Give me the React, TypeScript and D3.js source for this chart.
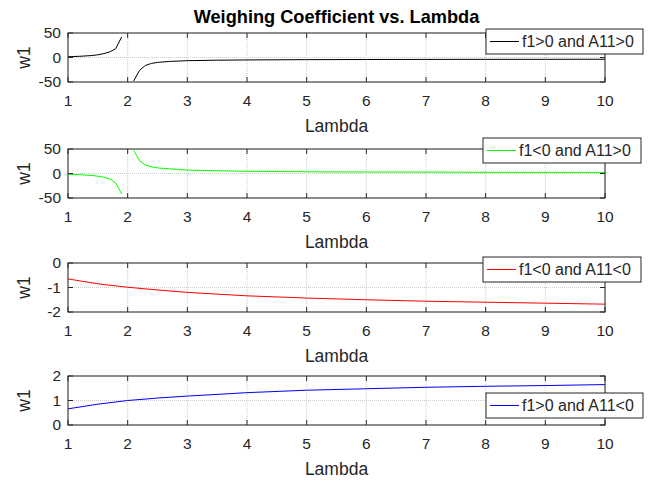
import * as d3 from "d3";

// lambda samples, split around the singularity at lambda = 2
const lambdaLow = [1, 1.2, 1.4, 1.5, 1.6, 1.7, 1.8, 1.9];
const lambdaHigh = [2.1, 2.2, 2.3, 2.4, 2.5, 2.7, 3, 3.5, 4, 5, 6, 7, 8, 9, 10];
const lambdaAll = [1, 1.5, 2, 2.5, 3, 4, 5, 6, 7, 8, 9, 10];

// f1>0 and A11>0
const w1PosPosLow = [1.5, 2.5, 4, 5.5, 8, 11.5, 18, 42];
const w1PosPosHigh = [-48, -26, -16, -12, -10, -8, -6.5, -5.5, -5, -4.4, -4.1, -3.9, -3.8, -3.7, -3.6];
// f1<0 and A11>0
const w1NegPosLow = [-1.5, -2.5, -4, -5.5, -7.5, -11, -19, -42];
const w1NegPosHigh = [47, 26, 17, 13.5, 11.5, 9.5, 7, 5.5, 4.5, 3.5, 3, 2.8, 2.5, 2.3, 2.2];
// f1<0 and A11<0
const w1NegNeg = [-0.65, -0.85, -0.99, -1.1, -1.2, -1.34, -1.43, -1.5, -1.56, -1.6, -1.64, -1.68];
// f1>0 and A11<0
const w1PosNeg = [0.66, 0.85, 1.0, 1.1, 1.18, 1.32, 1.42, 1.48, 1.54, 1.58, 1.61, 1.65];

const xTicks = [1, 2, 3, 4, 5, 6, 7, 8, 9, 10];
const legendLabels = ["f1>0 and A11>0", "f1<0 and A11>0", "f1<0 and A11<0", "f1>0 and A11<0"];
const yDomains: [number, number][] = [[-50, 50], [-50, 50], [-2, 0], [0, 2]];
const yTicks = [[-50, 0, 50], [-50, 0, 50], [-2, -1, 0], [0, 1, 2]];

const zip = (xs: number[], ys: number[]) => xs.map((x, i) => [x, ys[i]] as [number, number]);

const segments: [number, number][][][] = [
  [zip(lambdaLow, w1PosPosLow), zip(lambdaHigh, w1PosPosHigh)],
  [zip(lambdaLow, w1NegPosLow), zip(lambdaHigh, w1NegPosHigh)],
  [zip(lambdaAll, w1NegNeg)],
  [zip(lambdaAll, w1PosNeg)],
];

const colors = ["#000000", "#00ff00", "#ff0000", "#0000ff"];
const panelTops = [33, 149, 263, 376];
const legendTops = [29, 138, 257, 393];
const legendLefts = [486, 483, 483, 486];
const legendWidths = [157, 158, 158, 157];

const W = 650;
const H = 482;
const left = 68;
const right = 605;
const panelH = 49;
const ink = "#262626";
const font = "'Liberation Sans', Arial, Helvetica, sans-serif";

const xScale = d3.scaleLinear().domain([1, 10]).range([left, right]);

function Panel({ idx }: { idx: number }) {
  const top = panelTops[idx];
  const bottom = top + panelH;
  const y = d3.scaleLinear().domain(yDomains[idx]).range([bottom, top]);
  const line = d3
    .line<[number, number]>()
    .x((d) => xScale(d[0]))
    .y((d) => y(d[1]));
  const lx = legendLefts[idx];
  const ly = legendTops[idx];
  const lw = legendWidths[idx];
  const lh = 25;

  return (
    <g>
      <rect x={left} y={top} width={right - left} height={panelH} fill="#fff" />
      {/* grid */}
      {xTicks.map((t) => (
        <line
          key={"gx" + t}
          x1={xScale(t)}
          x2={xScale(t)}
          y1={top}
          y2={bottom}
          stroke="#bdbdbd"
          strokeWidth={0.8}
          strokeDasharray="1,1"
        />
      ))}
      {yTicks[idx].map((t) => (
        <line
          key={"gy" + t}
          x1={left}
          x2={right}
          y1={y(t)}
          y2={y(t)}
          stroke="#bdbdbd"
          strokeWidth={0.8}
          strokeDasharray="1,1"
        />
      ))}
      {/* data */}
      {segments[idx].map((seg, i) => (
        <path key={i} d={line(seg) ?? ""} fill="none" stroke={colors[idx]} strokeWidth={1} />
      ))}
      {/* box + ticks */}
      <rect x={left} y={top} width={right - left} height={panelH} fill="none" stroke={ink} strokeWidth={1} />
      {xTicks.map((t) => (
        <g key={"tx" + t}>
          <line x1={xScale(t)} x2={xScale(t)} y1={bottom} y2={bottom - 5} stroke={ink} />
          <line x1={xScale(t)} x2={xScale(t)} y1={top} y2={top + 5} stroke={ink} />
          <text
            x={xScale(t)}
            y={bottom + 24}
            textAnchor="middle"
            fontSize={15.5}
            fontFamily={font}
            fill={ink}
          >
            {t}
          </text>
        </g>
      ))}
      {yTicks[idx].map((t) => (
        <g key={"ty" + t}>
          <line x1={left} x2={left + 5} y1={y(t)} y2={y(t)} stroke={ink} />
          <line x1={right} x2={right - 5} y1={y(t)} y2={y(t)} stroke={ink} />
          <text
            x={left - 7}
            y={y(t)}
            dy="0.35em"
            textAnchor="end"
            fontSize={15.5}
            fontFamily={font}
            fill={ink}
          >
            {t}
          </text>
        </g>
      ))}
      <text
        x={(left + right) / 2}
        y={bottom + 50}
        textAnchor="middle"
        fontSize={17.5}
        fontFamily={font}
        fill={ink}
      >
        Lambda
      </text>
      <text
        transform={`translate(30,${(top + bottom) / 2}) rotate(-90)`}
        textAnchor="middle"
        fontSize={17.5}
        fontFamily={font}
        fill={ink}
      >
        w1
      </text>
      {/* legend */}
      <rect x={lx} y={ly} width={lw} height={lh} fill="#fff" stroke={ink} strokeWidth={1} />
      <line x1={lx + 4} x2={lx + 33} y1={ly + lh / 2} y2={ly + lh / 2} stroke={colors[idx]} strokeWidth={1} />
      <text
        x={lx + 36}
        y={ly + lh / 2}
        dy="0.35em"
        fontSize={16}
        fontFamily={font}
        fill={ink}
      >
        {legendLabels[idx]}
      </text>
    </g>
  );
}

export default function App() {
  return (
    <svg
      width={W}
      height={H}
      style={{ position: "absolute", left: 0, top: 0, background: "#fff" }}
    >
      <rect width={W} height={H} fill="#fff" />
      <text
        x={(left + right) / 2}
        y={23}
        textAnchor="middle"
        fontSize={18.2}
        fontWeight="bold"
        fontFamily={font}
        fill="#000"
      >
        Weighing Coefficient vs. Lambda
      </text>
      {[0, 1, 2, 3].map((i) => (
        <Panel key={i} idx={i} />
      ))}
    </svg>
  );
}
